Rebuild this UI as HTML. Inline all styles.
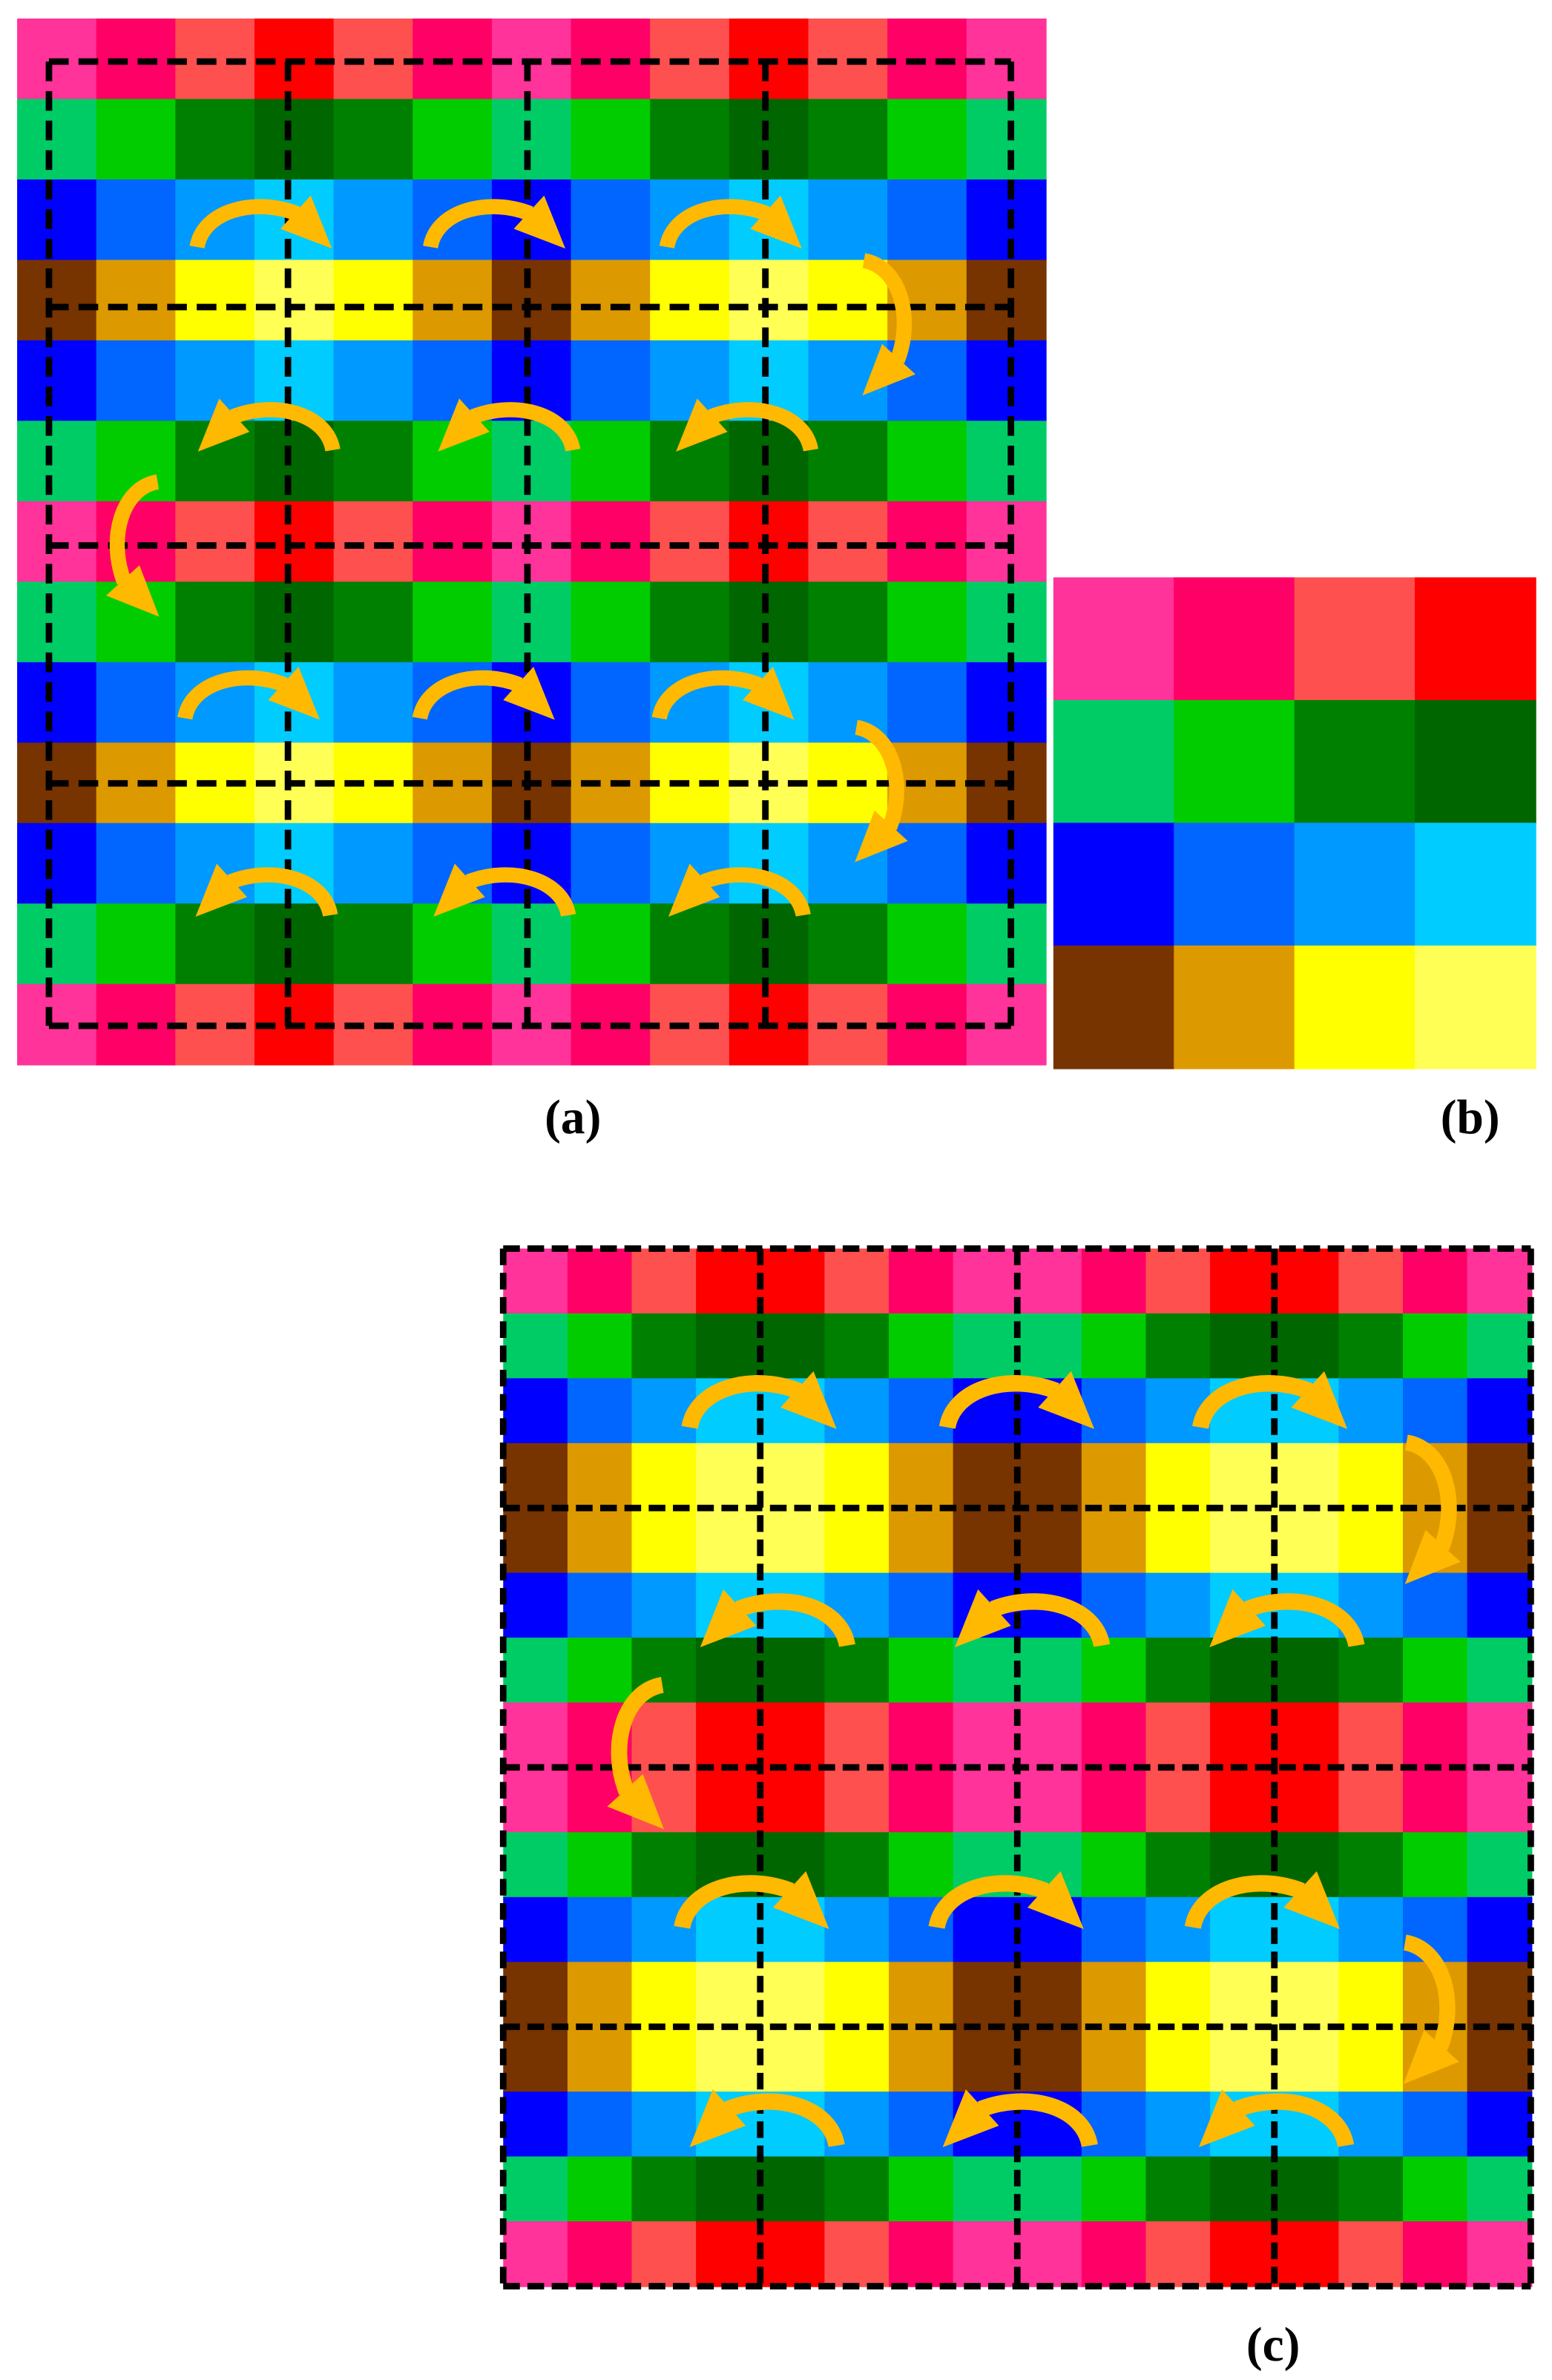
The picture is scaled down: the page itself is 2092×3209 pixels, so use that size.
<!DOCTYPE html>
<html><head><meta charset="utf-8"><style>
html,body{margin:0;padding:0;background:#fff;}
svg{display:block;}
</style></head><body>
<svg id="s" xmlns="http://www.w3.org/2000/svg" width="2092" height="3209" viewBox="0 0 1024 1570.7">
<defs>
<g id="arc">
<path d="M0,0 C4,-24 38,-33 66,-22" fill="none" stroke="#ffb900" stroke-width="10"/>
<polygon points="89,1 75,-34 55,-12" fill="#ffb900"/>
</g>
</defs>
<g id="cells"></g>
<g id="dash" fill="none" stroke="#000"></g>
<g id="arrows"></g>
<text x="378" y="748" font-family="Liberation Serif, serif" font-weight="bold" font-size="32" text-anchor="middle">(a)</text>
<text x="970" y="748" font-family="Liberation Serif, serif" font-weight="bold" font-size="32" text-anchor="middle">(b)</text>
<text x="840" y="1558" font-family="Liberation Serif, serif" font-weight="bold" font-size="32" text-anchor="middle">(c)</text>
</svg>
<script>
var NS="http://www.w3.org/2000/svg";
var C=[["#ff3399","#ff0066","#ff5050","#ff0000"],["#00cc66","#00cc00","#008000","#006600"],["#0000ff","#0066ff","#0099ff","#00ccff"],["#773300","#dd9900","#ffff00","#ffff55"]];
var cells=document.getElementById("cells");
function grid(x0,y0,w,h,rows,cols){
 for(var r=0;r<rows.length;r++)for(var c=0;c<cols.length;c++){
  var e=document.createElementNS(NS,"rect");
  e.setAttribute("x",x0+c*w);e.setAttribute("y",y0+r*h);
  e.setAttribute("width",w+0.6);e.setAttribute("height",h+0.6);
  e.setAttribute("fill",C[rows[r]][cols[c]]);cells.appendChild(e);}
}
grid(11.3,12.2,52.2,53.1,[0,1,2,3,2,1,0,1,2,3,2,1,0],[0,1,2,3,2,1,0,1,2,3,2,1,0]);
grid(695,381,79.5,81,[0,1,2,3],[0,1,2,3]);
grid(332,824,42.4,42.8,[0,1,2,3,3,2,1,0,0,1,2,3,3,2,1,0],[0,1,2,3,3,2,1,0,0,1,2,3,3,2,1,0]);
var dash=document.getElementById("dash");
function L(x1,y1,x2,y2,sw,da){var e=document.createElementNS(NS,"line");
 e.setAttribute("x1",x1);e.setAttribute("y1",y1);e.setAttribute("x2",x2);e.setAttribute("y2",y2);
 e.setAttribute("stroke-width",sw);e.setAttribute("stroke-dasharray",da);dash.appendChild(e);}
var da1="13,6.5";
// (a)
L(32.3,40.6,667,40.6,4.3,da1);L(32.3,677,667,677,4.3,da1);
L(32.3,40.6,32.3,677,4.3,da1);L(667,40.6,667,677,4.3,da1);
[190,348,505].forEach(function(x){L(x,40.6,x,677,4.3,da1);});
[202.6,360,517].forEach(function(y){L(32.3,y,667,y,4.3,da1);});
// (c)
var da2="11,5";
L(332,824,1010,824,4.3,da2);L(332,1508.8,1010,1508.8,4.3,da2);
L(332,824,332,1508.8,4.3,da2);L(1010,824,1010,1508.8,4.3,da2);
[501.6,671.2,840.8].forEach(function(x){L(x,824,x,1508.8,4.3,da2);});
[995.2,1166.4,1337.6].forEach(function(y){L(332,y,1010,y,4.3,da2);});
var ar=document.getElementById("arrows");
function A(t){var u=document.createElementNS(NS,"use");u.setAttribute("href","#arc");u.setAttribute("transform",t);ar.appendChild(u);}
// (a) arrows
[130,284,440].forEach(function(x){A("translate("+x+",163)");});
[122,277,435].forEach(function(x){A("translate("+x+",474)");});
[219.6,378,535].forEach(function(x){A("translate("+x+",297) scale(-1,1)");});
[218,375,530].forEach(function(x){A("translate("+x+",604) scale(-1,1)");});
A("translate(570,172) rotate(90)");
A("translate(565,480) rotate(90)");
A("translate(104,318) scale(-1,1) rotate(90)");
// (c) arrows
[455,625,792].forEach(function(x){A("translate("+x+",942) scale(1.09)");});
[450,618,787].forEach(function(x){A("translate("+x+",1272) scale(1.09)");});
[559,727,895].forEach(function(x){A("translate("+x+",1086) scale(-1.09,1.09)");});
[552,719,888].forEach(function(x){A("translate("+x+",1416) scale(-1.09,1.09)");});
A("translate(928,952) rotate(90) scale(1.05)");
A("translate(927,1282) rotate(90) scale(1.05)");
A("translate(437,1112) scale(-1.07,1.07) rotate(90)");
</script>
</body></html>
